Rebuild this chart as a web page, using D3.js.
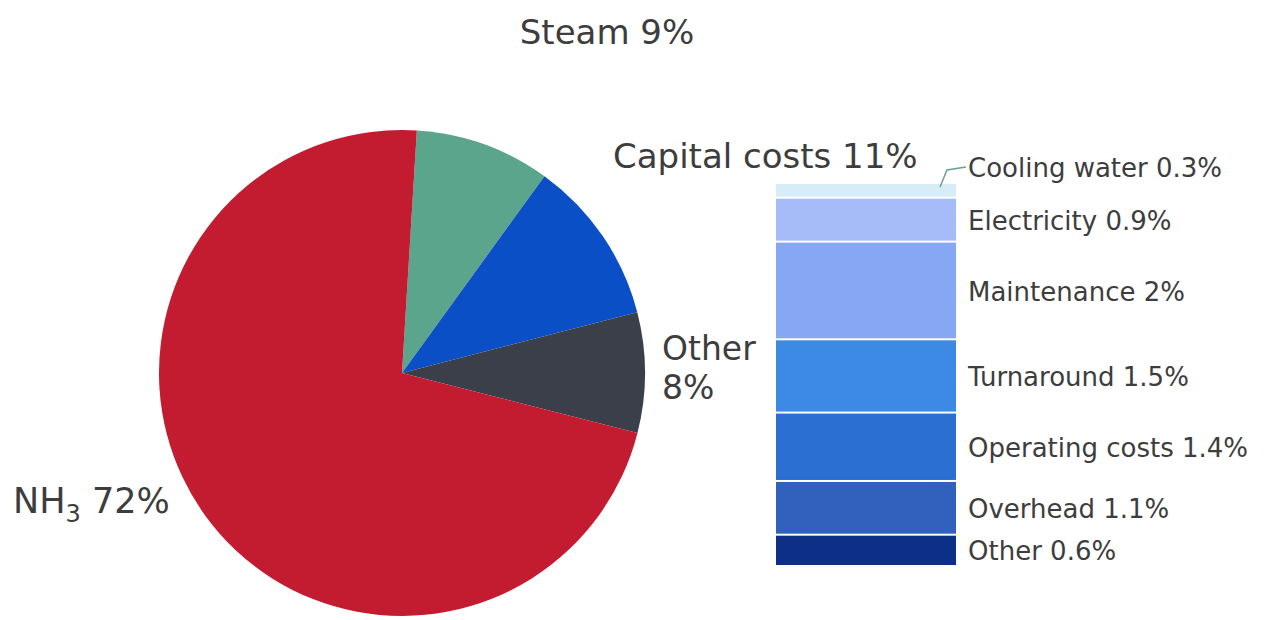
<!DOCTYPE html>
<html>
<head>
<meta charset="utf-8">
<script src="https://cdn.jsdelivr.net/npm/d3@7"></script>
<style>
  body { margin: 0; background: #fff; }
  text { font-family: "DejaVu Sans", Verdana, sans-serif; fill: #3d3d3d; }
</style>
</head>
<body>
<div id="graf"></div>
<script>
// datos del pastel
const pieLabels = ["Steam", "Capital costs", "Other", "NH3"]
const pieValues = [9, 11, 8, 72]
const pieColors = ["#5ba58c", "#0b4fc6", "#3b3f49", "#c31b2f"]

// datos de la barra (desglose de capital costs)
const barLabels = ["Cooling water", "Electricity", "Maintenance", "Turnaround", "Operating costs", "Overhead", "Other"]
const barValues = [0.3, 0.9, 2, 1.5, 1.4, 1.1, 0.6]
const barColors = ["#d6ecf7", "#a6bcf8", "#85a7f4", "#3d8ae4", "#2b6fd3", "#2f61bd", "#0e2f86"]

const anchoTotal = 1270
const altoTotal = 620

const svg = d3.select("#graf")
  .append("svg")
  .attr("width", anchoTotal)
  .attr("height", altoTotal)

// ---------- pastel ----------
const cx = 402, cy = 373, radio = 243
const inicio = 3.5 * Math.PI / 180

const pie = d3.pie()
  .sort(null)
  .value(d => d)
  .startAngle(inicio)
  .endAngle(inicio + 2 * Math.PI)

const arc = d3.arc().innerRadius(0).outerRadius(radio)

const gPie = svg.append("g")
  .attr("transform", `translate(${cx}, ${cy})`)

gPie.selectAll("path")
  .data(pie(pieValues))
  .enter()
  .append("path")
  .attr("d", arc)
  .attr("fill", (d, i) => pieColors[i])

// etiquetas del pastel
const fPie = "34px"

svg.append("text")
  .attr("x", 607)
  .attr("y", 44)
  .attr("text-anchor", "middle")
  .style("font-size", fPie)
  .text(`${pieLabels[0]} ${pieValues[0]}%`)

svg.append("text")
  .attr("x", 613)
  .attr("y", 168)
  .style("font-size", fPie)
  .text(`${pieLabels[1]} ${pieValues[1]}%`)

// "Other 8%" en dos lineas, dos textos separados
svg.append("text")
  .attr("x", 662)
  .attr("y", 360)
  .style("font-size", "33px")
  .text(pieLabels[2])
svg.append("text")
  .attr("x", 662)
  .attr("y", 399)
  .style("font-size", "33px")
  .text(`${pieValues[2]}%`)

const nh3 = svg.append("text")
  .attr("x", 13)
  .attr("y", 513)
  .style("font-size", "35px")
nh3.append("tspan").text("NH")
nh3.append("tspan").attr("dy", 9).style("font-size", "24px").text("3")
nh3.append("tspan").attr("dy", -9).text(` ${pieValues[3]}%`)

// ---------- barra apilada ----------
const barX = 776, barAncho = 180
const total = d3.sum(barValues)

const y = d3.scaleLinear()
  .domain([0, total])
  .range([184, 565])

const acumulado = d3.cumsum(barValues)
const segmentos = barValues.map((v, i) => ({
  label: barLabels[i],
  v: v,
  y0: acumulado[i] - v,
  y1: acumulado[i],
  color: barColors[i]
}))

svg.selectAll(".seg")
  .data(segmentos)
  .enter()
  .append("rect")
  .attr("class", "seg")
  .attr("x", barX)
  .attr("y", d => y(d.y0))
  .attr("width", barAncho)
  .attr("height", (d, i) => y(d.y1) - y(d.y0) - (i < segmentos.length - 1 ? 2 : 0))
  .attr("fill", d => d.color)

// etiquetas de la barra
const fBar = "26px"

svg.selectAll(".lab")
  .data(segmentos.slice(1))
  .enter()
  .append("text")
  .attr("class", "lab")
  .attr("x", 968)
  .attr("y", d => (y(d.y0) + y(d.y1)) / 2)
  .attr("dy", "0.36em")
  .style("font-size", fBar)
  .text(d => `${d.label} ${d.v}%`)

// cooling water va arriba con linea guia
const cw = segmentos[0]
svg.append("path")
  .attr("d", `M940,${y(cw.y0) + 3} L947,${y(cw.y0) - 14} L966,${y(cw.y0) - 17}`)
  .attr("fill", "none")
  .attr("stroke", "#6f9c9c")
  .attr("stroke-width", 1.5)

svg.append("text")
  .attr("x", 968)
  .attr("y", 177)
  .style("font-size", fBar)
  .text(`${cw.label} ${cw.v}%`)
</script>
</body>
</html>
